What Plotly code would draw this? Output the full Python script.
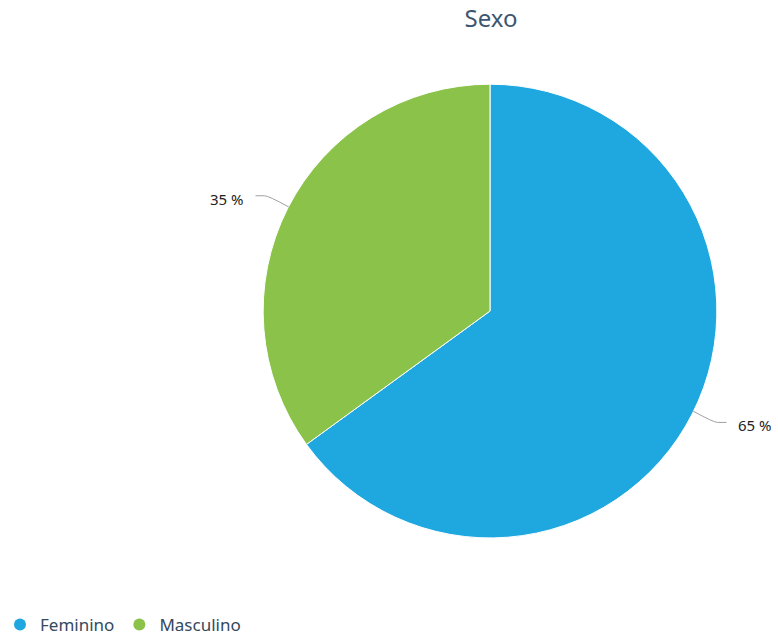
import math
import plotly.graph_objects as go

categories = ["Feminino", "Masculino"]
values = [65, 35]
colors = ["#1fa8e0", "#8bc34a"]
label_texts = ["65 %", "35 %"]

W, H = 778, 643
cx, cy, r = 491, 312, 227

fig = go.Figure()
fig.add_trace(go.Pie(
    labels=categories, values=values, sort=False, direction="clockwise", rotation=0,
    marker=dict(colors=colors, line=dict(color="white", width=1)),
    textinfo="none", hoverinfo="label+percent", showlegend=False,
    domain=dict(x=[(cx - 1 - r - 2) / W, (cx - 1 + r + 2) / W],
                y=[1 - (cy + 2 + r + 2) / H, 1 - (cy + 2 - r - 2) / H]),
))

# legend entries with circle markers
for c, col in zip(categories, colors):
    fig.add_trace(go.Scatter(x=[None], y=[None], mode="markers", name=c,
                             marker=dict(symbol="circle", size=12, color=col)))

def px(x):
    return x / W

def py(y):
    return 1 - y / H

total = sum(values)
start = 0.0
shapes = []
annotations = []
for v, t in zip(values, label_texts):
    mid = start + v / total * 360 / 2
    start += v / total * 360
    a = math.radians(mid)
    dx, dy = math.sin(a), -math.cos(a)
    x0, y0 = cx + r * dx, cy + r * dy
    x1, y1 = cx + (r + 25) * dx, cy + (r + 25) * dy
    side = 1 if dx >= 0 else -1
    x2 = x1 + side * 11
    shapes.append(dict(type="path", xref="paper", yref="paper",
                       path=f"M {px(x0)},{py(y0)} Q {px(x1 - side*2)},{py(y1)} {px(x1 + side*2)},{py(y1)} L {px(x2)},{py(y1)}",
                       line=dict(color="#a0a0a0", width=1)))
    annotations.append(dict(x=px(x2 + side * 9), y=py(y1 + 3), xref="paper", yref="paper",
                            text=t, showarrow=False, xanchor="left" if side > 0 else "right",
                            yanchor="middle", font=dict(size=15, color="#222222", family="Noto Sans")))

fig.update_layout(
    width=W, height=H,
    margin=dict(l=0, r=0, t=0, b=0),
    paper_bgcolor="white", plot_bgcolor="white",
    title=dict(text="Sexo", x=px(491), y=py(19), xanchor="center", yanchor="middle",
               font=dict(size=24, color="#3d5670", family="Noto Sans")),
    xaxis=dict(visible=False), yaxis=dict(visible=False),
    shapes=shapes, annotations=annotations,
    legend=dict(orientation="h", x=0, xanchor="left", y=py(631), yanchor="middle",
                font=dict(size=17, color="#34495e", family="Noto Sans"),
                itemwidth=30, tracegroupgap=0),
    showlegend=True,
)

fig.write_html("out.html")
